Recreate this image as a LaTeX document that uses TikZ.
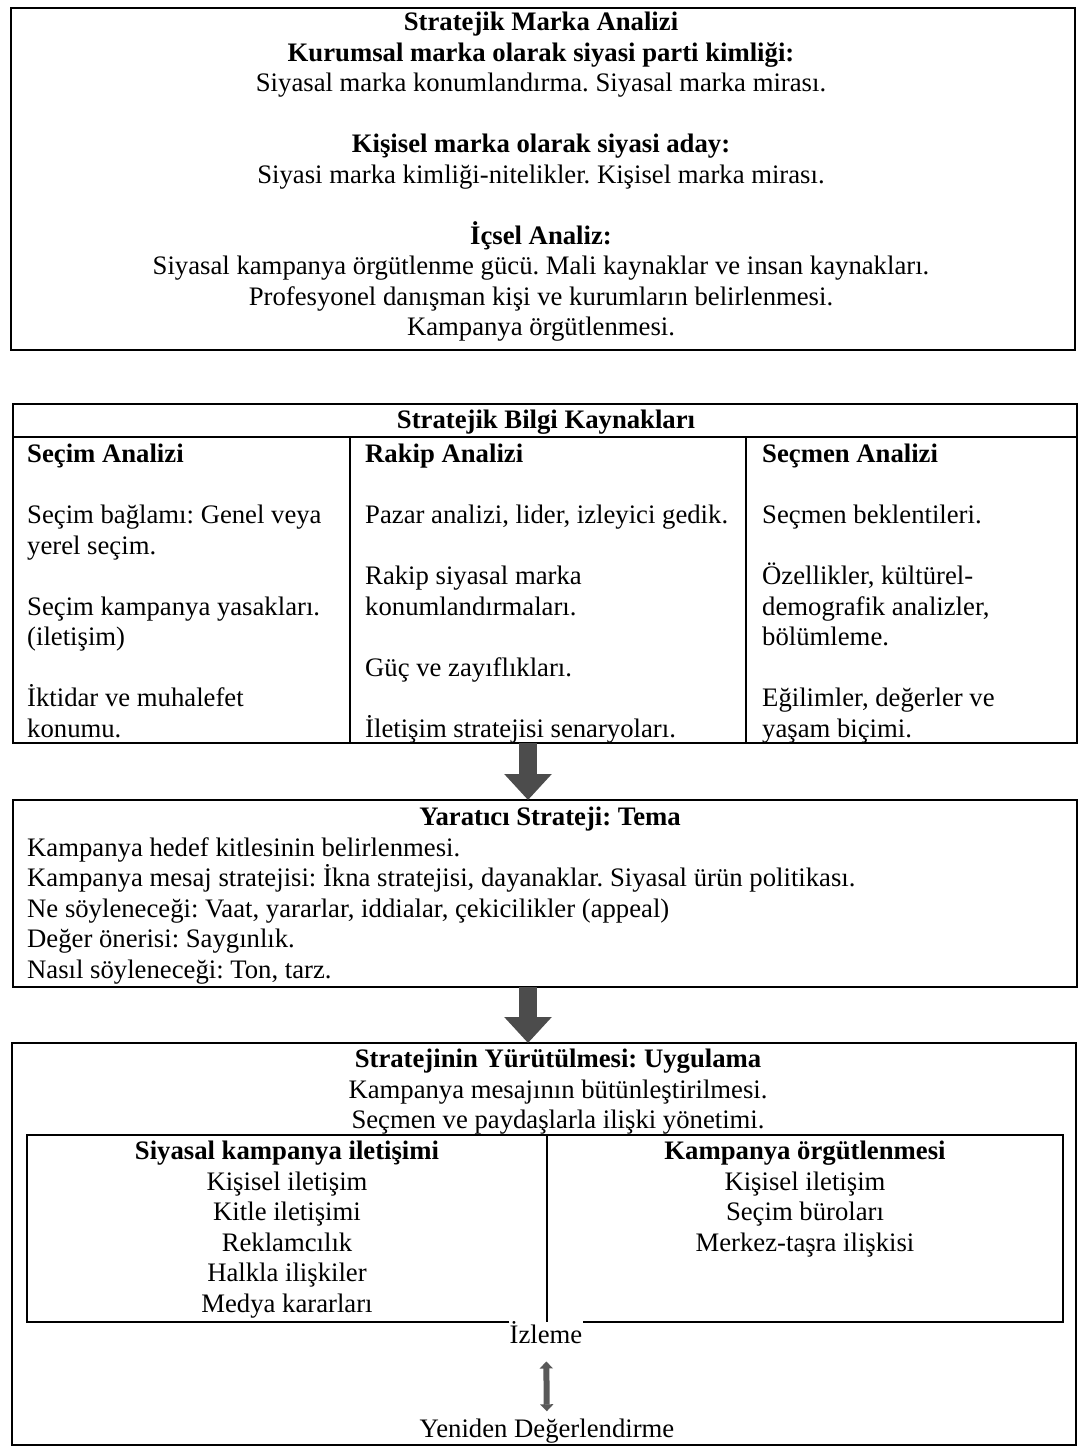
\documentclass[tikz,border=0pt]{standalone}
\usepackage{fontspec}
\setmainfont{Liberation Serif}
\usetikzlibrary{arrows.meta}
\frenchspacing

\tikzset{
	txt/.style={font=\fontsize{26.7pt}{30.5pt}\selectfont, inner sep=0pt},
	boxline/.style={line width=2.6pt},
	bigarr/.style={draw=black!70, line width=18pt, -{Triangle[length=26pt,width=46pt]}},
	smallarr/.style={draw=black!65, line width=6pt, {Triangle[length=7pt,width=13pt]}-{Triangle[length=7pt,width=13pt]}}
}

\begin{document}
\begin{tikzpicture}[x=1pt, y=-1pt]
	\useasboundingbox (0,0) rectangle (1079,1447);
	
	%frames
	\draw[boxline] (11,8) rectangle (1075,350);
	\draw[boxline] (13,404) rectangle (1077,743);
	\draw[boxline] (13,437)--(1077,437);
	\draw[boxline] (350,437)--(350,743); \draw[boxline] (746,437)--(746,743);
	\draw[boxline] (13,800) rectangle (1077,987);
	\draw[boxline] (12,1043) rectangle (1076,1445);
	
	%strategic brand analysis
	\node[txt, anchor=north, align=center] (marka) at (541,12) {\textbf{Stratejik Marka Analizi}\\ \textbf{Kurumsal marka olarak siyasi parti kimliği:}\\ Siyasal marka konumlandırma. Siyasal marka mirası.\\[30.5pt] \textbf{Kişisel marka olarak siyasi aday:}\\ Siyasi marka kimliği-nitelikler. Kişisel marka mirası.\\[30.5pt] \textbf{İçsel Analiz:}\\ Siyasal kampanya örgütlenme gücü. Mali kaynaklar ve insan kaynakları.\\ Profesyonel danışman kişi ve kurumların belirlenmesi.\\ Kampanya örgütlenmesi.};
	
	%information sources
	\node[txt, anchor=base] (bilgi) at (546,428) {\textbf{Stratejik Bilgi Kaynakları}};
	\node[txt, anchor=north west, align=left] (secim) at (27,444) {\textbf{Seçim Analizi}\\[30.5pt] Seçim bağlamı: Genel veya\\ yerel seçim.\\[30.5pt] Seçim kampanya yasakları.\\ (iletişim)\\[30.5pt] İktidar ve muhalefet\\ konumu.};
	\node[txt, anchor=north west, align=left] (rakip) at (365,444) {\textbf{Rakip Analizi}\\[30.5pt] Pazar analizi, lider, izleyici gedik.\\[30.5pt] Rakip siyasal marka\\ konumlandırmaları.\\[30.5pt] Güç ve zayıflıkları.\\[30.5pt] İletişim stratejisi senaryoları.};
	\node[txt, anchor=north west, align=left] (secmen) at (762,444) {\textbf{Seçmen Analizi}\\[30.5pt] Seçmen beklentileri.\\[30.5pt] Özellikler, kültürel-\\ demografik analizler,\\ bölümleme.\\[30.5pt] Eğilimler, değerler ve\\ yaşam biçimi.};
	
	%creative strategy
	\node[txt, anchor=base] (tema) at (550,825) {\textbf{Yaratıcı Strateji: Tema}};
	\node[txt, anchor=north west, align=left] (temalist) at (27,837) {Kampanya hedef kitlesinin belirlenmesi.\\ Kampanya mesaj stratejisi: İkna stratejisi, dayanaklar. Siyasal ürün politikası.\\ Ne söyleneceği: Vaat, yararlar, iddialar, çekicilikler (appeal)\\ Değer önerisi: Saygınlık.\\ Nasıl söyleneceği: Ton, tarz.};
	
	%execution
	\node[txt, anchor=north, align=center] (uygulama) at (558,1049) {\textbf{Stratejinin Yürütülmesi: Uygulama}\\ Kampanya mesajının bütünleştirilmesi.\\ Seçmen ve paydaşlarla ilişki yönetimi.};
	\node[txt, anchor=north, align=center] (iletisim) at (287,1141) {\textbf{Siyasal kampanya iletişimi}\\ Kişisel iletişim\\ Kitle iletişimi\\ Reklamcılık\\ Halkla ilişkiler\\ Medya kararları};
	\node[txt, anchor=north, align=center] (orgut) at (805,1141) {\textbf{Kampanya örgütlenmesi}\\ Kişisel iletişim\\ Seçim büroları\\ Merkez-taşra ilişkisi};
	\node[txt, anchor=base] (izleme) at (546,1343) {İzleme};
	\node[txt, anchor=base] (yeniden) at (547,1437) {Yeniden Değerlendirme};
	
	%inner frame, open under the monitoring label
	\coordinate (ib) at (0,1322);
	\draw[boxline] (izleme.west |- ib)--(27,1322)--(27,1135)--(1063,1135)--(1063,1322)--(izleme.east |- ib);
	\draw[boxline] (547,1135)--(547,1322);
	
	%arrows
	\coordinate (b2s) at (528,743); \coordinate (b3n) at (528,800);
	\coordinate (b3s) at (528,987); \coordinate (b4n) at (528,1043);
	\draw[bigarr] (b2s)--(b3n);
	\draw[bigarr] (b3s)--(b4n);
	\draw[smallarr, shorten <=18pt, shorten >=7pt] (izleme)--(yeniden);
\end{tikzpicture}
\end{document}
